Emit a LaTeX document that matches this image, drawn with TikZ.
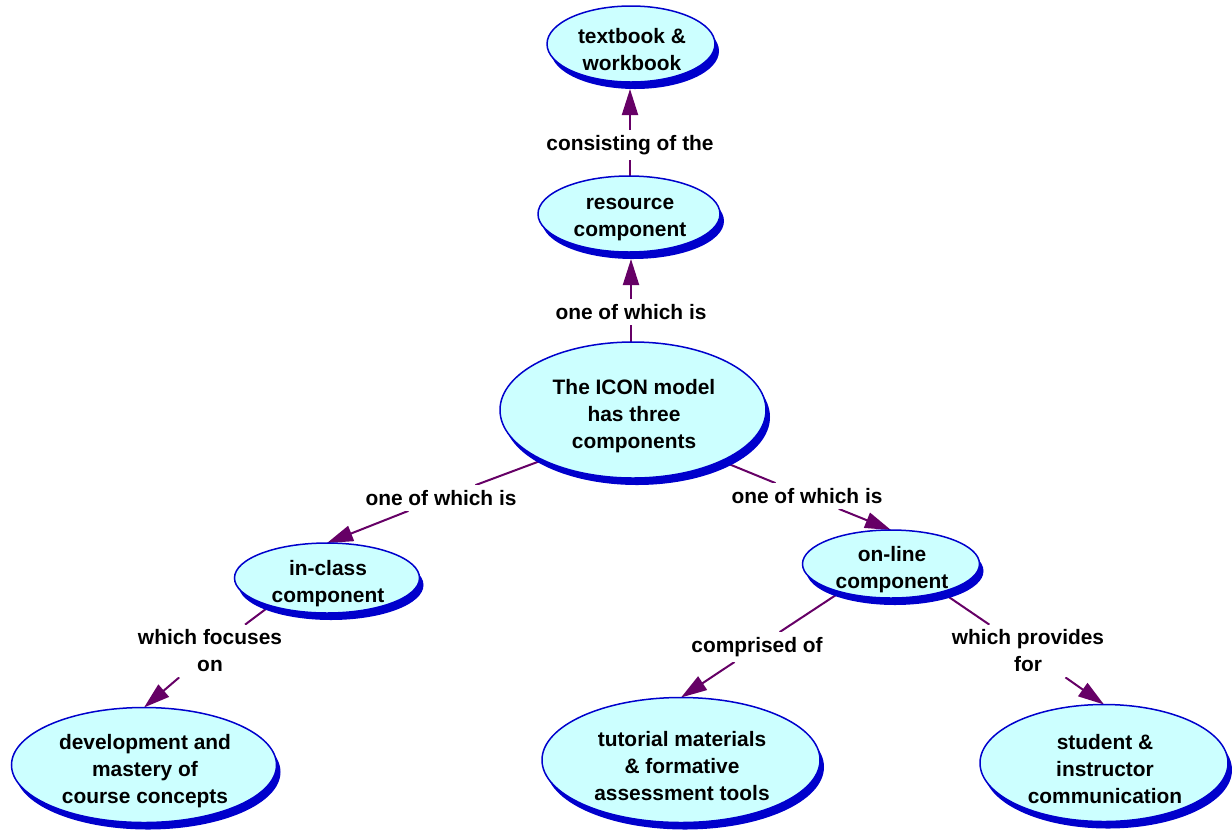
\documentclass[tikz,border=0pt]{standalone}
\usepackage{fontspec}
\setmainfont{Liberation Sans}
\usetikzlibrary{shapes.geometric,arrows.meta,backgrounds}
\definecolor{cfill}{RGB}{204,255,255}
\definecolor{cblue}{RGB}{0,0,204}
\definecolor{cline}{RGB}{102,0,102}
\newcommand\cmapnode[6]{%
  \node[shadowell,minimum width=#4pt,minimum height=#5pt] (#1-s) at ({#2+4},{#3+7}) {};
  \node[mainell,minimum width=#4pt,minimum height=#5pt] (#1) at (#2,#3) {};
  \node[ctext] (#1-t) at ({#2+1},{#3+6}) {#6};
}
\begin{document}
\begin{tikzpicture}[x=1pt,y=-1pt,
  shadowell/.style={ellipse,fill=cblue,draw=none,inner sep=0pt,outer sep=0pt},
  mainell/.style={ellipse,fill=cfill,draw=cblue,line width=1.5pt,inner sep=0pt,outer sep=0pt},
  ctext/.style={font=\fontsize{20.9}{27}\selectfont\bfseries,align=center,inner sep=0pt},
  lbl/.style={font=\fontsize{20.9}{27}\selectfont\bfseries,align=center,fill=white,inner sep=5pt},
  conn/.style={draw=cline,line width=2pt},
  arr/.style={-{Triangle[length=26pt,width=16pt]}}]
\useasboundingbox (0,0) rectangle (1232,831);

\cmapnode{tb}{631}{44}{168}{76}{textbook \&\\workbook}
\cmapnode{res}{629}{214}{182}{76}{resource\\component}
\cmapnode{icon}{633}{410}{266}{136}{The ICON model\\has three\\components}
\cmapnode{inc}{327}{578}{185}{70}{in-class\\component}
\cmapnode{onl}{891}{564}{177}{68}{on-line\\component}
\cmapnode{dev}{144}{765}{265}{115}{development and\\mastery of\\course concepts}
\cmapnode{tut}{681}{760}{278}{125}{tutorial materials\\\& formative\\assessment tools}
\cmapnode{stu}{1104}{763}{248}{117}{student \&\\instructor\\communication}

\node[lbl] (l1) at (630,145) {consisting of the};
\node[lbl] (l2) at (631,312) {one of which is};
\node[lbl] (l3) at (441,498) {one of which is};
\node[lbl] (l4) at (807,496) {one of which is};
\node[lbl] (l5) at (210,651) {which focuses\\on};
\node[lbl] (l6) at (757,647) {comprised of};
\node[lbl] (l7) at (1028,651) {which provides\\for};

\begin{scope}[on background layer]
  \draw[conn] (res.north -| l1) -- (l1);
  \draw[conn,arr] (l1) -- (l1 |- tb-s.south);
  \draw[conn] (icon.north -| l2) -- (l2);
  \draw[conn,arr] (l2) -- (l2 |- res-s.south);
  \draw[conn] (icon.209.8) -- (l3);
  \draw[conn,arr] (l3) -- (inc.north);
  \draw[conn] (icon.330.8) -- (l4);
  \draw[conn,arr] (l4) -- (onl.north);
  \draw[conn] (inc.206.7) -- (l5);
  \draw[conn,arr] (l5) -- (dev.north);
  \draw[conn] (onl.209.5) -- (l6);
  \draw[conn,arr] (l6) -- (tut.north);
  \draw[conn] (onl.331.1) -- (l7);
  \draw[conn,arr] (l7) -- (stu.north);
\end{scope}
\end{tikzpicture}
\end{document}
